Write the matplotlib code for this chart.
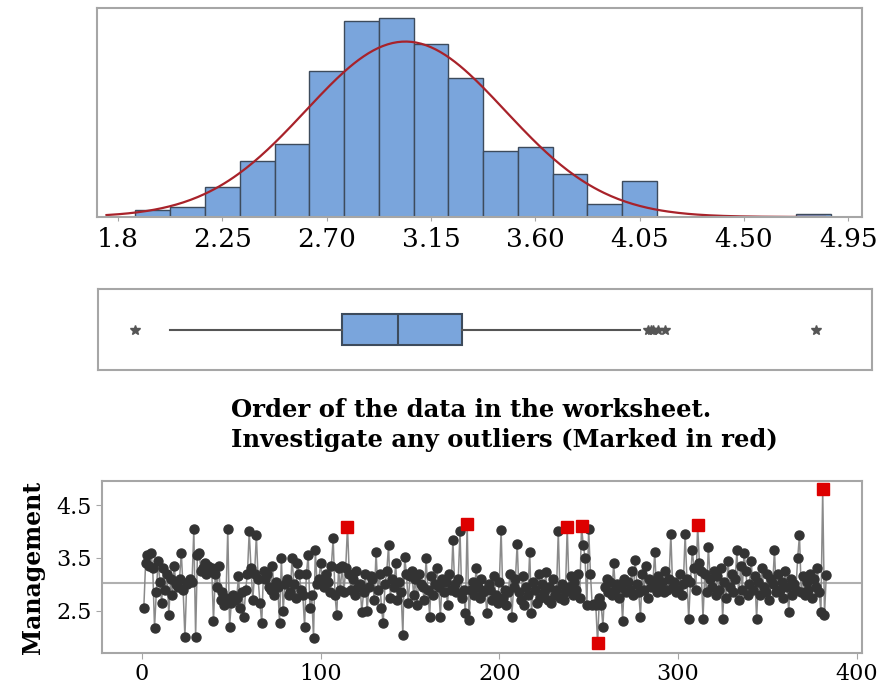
import numpy as np
import matplotlib
matplotlib.use("Agg")
import matplotlib.pyplot as plt

plt.rcParams['font.family'] = ['DejaVu Serif']

# histogram (bin centres, counts)
bin_centers = [1.95, 2.10, 2.25, 2.40, 2.55, 2.70, 2.85, 3.00, 3.15, 3.30,
               3.45, 3.60, 3.75, 3.90, 4.05, 4.20, 4.35, 4.50, 4.65, 4.80]
bin_counts = [2, 3, 9, 17, 22, 44, 59, 60, 52, 42,
              20, 21, 13, 4, 11, 0, 0, 0, 0, 1]
bin_width = 0.15
hist_ticks = [1.8, 2.25, 2.70, 3.15, 3.60, 4.05, 4.50, 4.95]
hist_tick_labels = ["1.8", "2.25", "2.70", "3.15", "3.60", "4.05", "4.50", "4.95"]
fit_mean = 3.04
fit_sd = 0.43

# boxplot summary
box_q1 = 2.766
box_median = 3.005
box_q3 = 3.281
whisker_low = 2.027
whisker_high = 4.044

# worksheet order of the Management scores
management = [
    2.55, 3.40, 3.55, 3.35, 3.60, 3.30, 2.17, 2.85, 3.45, 3.05, 2.65, 3.30, 2.90, 3.20, 2.42, 3.10,
    2.80, 3.35, 3.00, 2.95, 3.10, 3.60, 2.90, 2.00, 3.00, 3.05, 3.10, 3.05, 4.04, 2.00, 3.55, 3.60,
    3.25, 3.30, 3.40, 3.20, 3.35, 3.25, 3.30, 2.30, 3.20, 2.95, 3.35, 2.70, 2.85, 2.60, 2.75, 4.04,
    2.20, 2.65, 2.80, 2.70, 2.75, 3.15, 2.55, 2.85, 2.39, 2.90, 3.20, 4.00, 3.30, 2.70, 3.20, 3.93,
    3.10, 2.65, 2.26, 3.25, 3.10, 3.20, 2.95, 2.90, 3.35, 2.80, 3.05, 2.95, 2.26, 3.50, 2.50, 3.00,
    3.10, 2.80, 2.85, 3.50, 3.00, 2.75, 3.40, 3.20, 2.90, 2.80, 2.20, 3.20, 3.55, 2.55, 2.80, 1.98,
    3.65, 3.00, 3.10, 3.40, 3.05, 2.95, 3.20, 3.05, 2.85, 3.35, 3.87, 2.80, 2.42, 3.30, 2.90, 3.35,
    2.85, 3.30, 4.09, 3.20, 2.90, 3.10, 2.80, 3.25, 2.95, 3.00, 2.48, 2.85, 3.20, 2.50, 2.95, 3.15,
    3.10, 2.70, 3.62, 2.90, 3.20, 2.55, 2.26, 3.00, 3.25, 3.74, 2.75, 3.10, 2.95, 3.40, 2.70, 3.05,
    2.85, 2.04, 3.52, 3.20, 2.65, 3.15, 3.25, 2.80, 3.10, 2.60, 3.20, 3.00, 2.95, 2.70, 3.49, 2.90,
    2.39, 3.15, 2.80, 3.00, 3.30, 2.95, 2.39, 3.10, 2.85, 3.05, 2.60, 3.20, 2.90, 3.84, 3.00, 2.85,
    3.10, 4.00, 2.75, 2.90, 2.45, 4.15, 2.32, 2.90, 3.05, 2.80, 3.30, 2.95, 2.75, 3.10, 2.85, 2.90,
    2.45, 3.00, 2.90, 2.70, 3.15, 2.80, 2.65, 3.05, 4.03, 2.75, 2.90, 2.60, 2.85, 3.20, 2.39, 2.95,
    3.10, 3.77, 2.85, 2.70, 3.15, 2.60, 2.95, 2.80, 3.62, 2.45, 3.05, 2.90, 2.65, 3.20, 2.75, 3.00,
    2.85, 3.24, 2.70, 2.95, 2.65, 3.10, 2.80, 2.90, 4.00, 2.75, 3.00, 2.70, 2.85, 4.08, 2.95, 3.15,
    2.80, 3.05, 2.90, 3.20, 2.75, 4.10, 3.74, 3.50, 2.60, 4.05, 3.20, 2.60, 2.62, 2.60, 1.88, 2.75,
    2.60, 2.20, 2.95, 3.10, 2.85, 3.05, 2.80, 3.40, 2.90, 3.00, 2.75, 2.95, 2.30, 3.10, 2.85, 3.05,
    2.90, 3.25, 2.80, 3.46, 3.00, 2.85, 2.39, 3.20, 2.90, 3.35, 2.75, 3.10, 2.95, 3.05, 3.62, 2.85,
    3.15, 2.95, 3.05, 2.85, 3.25, 2.90, 3.10, 3.96, 2.95, 3.05, 2.85, 2.90, 3.20, 2.80, 3.00, 3.96,
    3.10, 2.35, 3.05, 3.65, 3.30, 2.90, 4.12, 3.40, 3.25, 2.35, 3.20, 2.85, 3.71, 3.10, 2.95, 3.25,
    2.80, 3.15, 2.90, 3.30, 2.35, 3.05, 2.75, 3.45, 2.95, 3.20, 2.85, 3.10, 3.65, 2.70, 3.35, 2.90,
    3.60, 3.25, 2.80, 3.00, 3.45, 2.90, 3.15, 2.35, 3.05, 2.80, 3.30, 2.95, 2.85, 3.20, 2.70, 3.10,
    3.00, 3.65, 2.85, 3.20, 2.90, 3.05, 2.75, 3.25, 2.95, 2.48, 3.10, 2.80, 3.00, 2.90, 3.50, 3.93,
    2.85, 3.15, 2.80, 3.05, 2.90, 3.20, 2.75, 3.10, 2.95, 3.30, 2.85, 2.48, 4.80, 2.42, 3.17,
]
outlier_low = 1.95
outlier_high = 4.06

W, H = 889, 695
BLUE = '#7aa5dc'
EDGE = '#3d4b5c'
FRAME = '#a6a6a6'


def rect(l, t, r, b):
    return [l / W, 1 - b / H, (r - l) / W, (b - t) / H]


def frame(ax):
    for s in ax.spines.values():
        s.set_color(FRAME)
        s.set_linewidth(1.5)


fig = plt.figure(figsize=(W / 100, H / 100), dpi=100)

# histogram with fitted normal curve
ax1 = fig.add_axes(rect(97, 8, 862, 217))
ax1.bar(bin_centers, bin_counts, width=bin_width, color=BLUE, edgecolor=EDGE, linewidth=1)
n = sum(bin_counts)
xs = np.linspace(1.75, 4.85, 300)
ys = n * bin_width / (fit_sd * np.sqrt(2 * np.pi)) * np.exp(-0.5 * ((xs - fit_mean) / fit_sd) ** 2)
ax1.plot(xs, ys, color='#a8222a', linewidth=1.6)
ax1.set_xlim(1.709, 5.01)
ax1.set_ylim(0, 63)
ax1.set_yticks([])
ax1.set_xticks(hist_ticks)
ax1.set_xticklabels(hist_tick_labels, fontsize=19)
ax1.tick_params(axis='x', length=3, color=FRAME, pad=4)
frame(ax1)

# boxplot
ax2 = fig.add_axes(rect(98, 289, 872, 370))
values = np.array(management)
flagged = (values < outlier_low) | (values > outlier_high)
stats = [dict(med=box_median, q1=box_q1, q3=box_q3, whislo=whisker_low,
              whishi=whisker_high, fliers=list(values[flagged]))]
ax2.bxp(stats, orientation='horizontal', widths=0.38, showcaps=False, patch_artist=True,
        boxprops=dict(facecolor=BLUE, edgecolor=EDGE, linewidth=1.5),
        medianprops=dict(color=EDGE, linewidth=1.5),
        whiskerprops=dict(color='#555555', linewidth=1.5),
        flierprops=dict(marker='*', markersize=7, markerfacecolor='#555555',
                        markeredgecolor='#555555', linestyle='none'))
ax2.set_xlim(1.72, 5.04)
ax2.set_ylim(0.5, 1.5)
ax2.set_xticks([])
ax2.set_yticks([])
frame(ax2)

fig.text(231 / W, 1 - 410 / H, "Order of the data in the worksheet.", fontsize=17.5,
         fontweight='bold', va='center', ha='left')
fig.text(231 / W, 1 - 440 / H, "Investigate any outliers (Marked in red)", fontsize=17.5,
         fontweight='bold', va='center', ha='left')

# run chart
ax3 = fig.add_axes(rect(102, 481, 862, 653))
idx = np.arange(1, len(values) + 1)
ax3.axhline(values.mean(), color='#b0b0b0', linewidth=1.5, zorder=1)
ax3.plot(idx, values, color='#8a8a8a', linewidth=1.1, zorder=2)
ax3.plot(idx, values, 'o', color='#333333', markersize=6.5, zorder=3)
ax3.plot(idx[flagged], values[flagged], 's', color='#dd0000', markersize=8, zorder=4)
ax3.set_xlim(-22.4, 403)
ax3.set_ylim(1.70, 4.955)
ax3.set_xticks([0, 100, 200, 300, 400])
ax3.set_yticks([2.5, 3.5, 4.5])
ax3.tick_params(labelsize=16, length=4, color=FRAME)
ax3.set_ylabel("Management", fontsize=17, fontweight='bold', labelpad=8)
frame(ax3)

fig.savefig("out.png", dpi=100)
